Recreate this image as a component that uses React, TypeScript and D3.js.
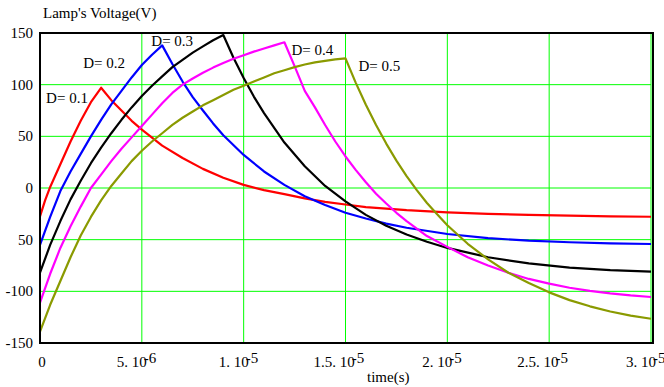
import React from 'react';
import * as d3 from 'd3';

// time in microseconds, voltage in volts
const redTime = [0, 0.25, 0.5, 1, 1.5, 2, 2.5, 3, 3.5, 4, 4.5, 5, 6, 7, 8, 9, 10, 11, 12, 13, 14, 15, 16, 18, 20, 22, 24, 26, 28, 30];
const redVolt = [-27.5, -12, 1, 23, 45, 65, 83, 97, 85, 75, 65, 56.5, 41, 29, 18.5, 10, 3, -2, -6, -10, -13.5, -16, -18.5, -21.5, -23.5, -25, -26, -26.8, -27.4, -27.8];

const blueTime = [0, 0.5, 1, 1.5, 2, 2.5, 3, 3.5, 4, 4.5, 5, 5.5, 6, 6.5, 7, 7.5, 8, 8.5, 9, 10, 11, 12, 13, 14, 15, 16, 17, 18, 20, 22, 24, 26, 28, 30];
const blueVolt = [-55, -28, -3, 16, 33, 50, 66, 81, 94, 107, 119, 129, 138, 120, 103, 88, 75, 62.5, 51, 32, 16, 3, -8, -16.5, -24, -29.5, -34.5, -38.5, -44.5, -48.5, -51, -52.5, -53.5, -54.2];

const blackTime = [0, 0.5, 1, 1.5, 2, 2.5, 3, 3.5, 4, 4.5, 5, 5.5, 6, 6.5, 7, 7.5, 8, 8.5, 9, 9.5, 10, 10.5, 11, 12, 13, 14, 15, 16, 17, 18, 19, 20, 22, 24, 26, 28, 30];
const blackVolt = [-82, -55, -32, -11, 7, 24, 39, 53, 66, 78, 89, 99, 108, 117, 124, 131, 137, 143, 148, 126, 106.5, 88.5, 72.5, 44, 21, 2, -13, -26, -36.5, -45, -52, -58, -67, -73, -77, -79.5, -81];

const magentaTime = [0, 0.5, 1, 1.5, 2, 2.5, 3, 3.5, 4, 4.5, 5, 5.5, 6, 6.5, 7, 7.5, 8, 8.5, 9, 9.5, 10, 10.5, 11, 11.5, 12, 12.5, 13, 13.5, 14, 14.5, 15, 15.5, 16, 16.5, 17, 17.5, 18, 19, 20, 21, 22, 23, 24, 25, 26, 27, 28, 29, 30];
const magentaVolt = [-111, -83, -58, -37, -18, 0, 13, 26, 38, 49, 60, 71, 82, 92, 100, 106, 111.5, 116.5, 121, 125, 128.5, 132, 135, 138, 141, 118, 94, 78, 61, 45, 30.5, 17.5, 5.5, -5.5, -15, -24, -32, -46.5, -57, -67, -75, -82, -88, -92.5, -96.5, -99.5, -102, -104, -105.5];

const oliveTime = [0, 0.5, 1, 1.5, 2, 2.5, 3, 3.5, 4, 4.5, 5, 5.5, 6, 6.5, 7, 7.5, 8, 8.5, 9, 9.5, 10, 10.5, 11, 11.5, 12, 12.5, 13, 13.5, 14, 14.5, 15, 15.5, 16, 16.5, 17, 17.5, 18, 18.5, 19, 19.5, 20, 21, 22, 23, 24, 25, 26, 27, 28, 29, 30];
const oliveVolt = [-139, -113, -90, -67, -46, -28, -12, 2, 14, 26, 36, 45, 53, 61, 68, 74, 80, 85, 90, 95, 99, 103, 107, 111, 114, 117, 119.5, 121.5, 123, 124.5, 125.5, 102, 80.5, 61, 43, 26.5, 11.5, -2, -14.5, -25.5, -36, -54, -69, -82, -92, -101, -108.5, -114.5, -119.5, -123.5, -126.5];

const seriesLabels = ['D= 0.1', 'D= 0.2', 'D= 0.3', 'D= 0.4', 'D= 0.5'];

const yTicks = [-150, -100, -50, 0, 50, 100, 150];
const yTickLabels = ['-150', '-100', '50', '0', '50', '100', '150'];

const xTicks = [0, 5e-6, 1e-5, 1.5e-5, 2e-5, 2.5e-5, 3e-5];
const xTickMantissa = ['0', '5. 10', '1. 10', '1.5. 10', '2. 10', '2.5. 10', '3. 10'];
const xTickExponent = ['', '-6', '-5', '-5', '-5', '-5', '-5'];

const W = 664;
const H = 387;

const x = d3.scaleLinear().domain([0, 3e-5]).range([40, 651]);
const y = d3.scaleLinear().domain([-150, 150]).range([343, 33]);

// label offsets (pixels) from each curve's peak
const labelOffsets = [[-55, 15], [-79, 23], [-72, 11], [7, 13], [13, 13]];

const series = [
  { t: redTime, v: redVolt, color: '#ff0000' },
  { t: blueTime, v: blueVolt, color: '#0000ff' },
  { t: blackTime, v: blackVolt, color: '#000000' },
  { t: magentaTime, v: magentaVolt, color: '#ff00ff' },
  { t: oliveTime, v: oliveVolt, color: '#8a9a00' },
];

const line = d3.line<[number, number]>()
  .x(d => x(d[0] * 1e-6))
  .y(d => y(d[1]));

export default function App() {
  const [x0, x1] = x.range();
  const [yb, yt] = y.range();

  return (
    <div style={{ position: 'absolute', left: 0, top: 0, fontFamily: 'Liberation Serif' }}>
      <svg width={W} height={H} style={{ display: 'block', background: 'white' }}
        fontFamily="Liberation Serif" fontSize={15} fill="#000">
        <rect x={0} y={0} width={W} height={H} fill="white" />

        {/* grid */}
        {xTicks.slice(1).map(t => (
          <line key={'gx' + t} x1={x(t)} x2={x(t)} y1={yt} y2={yb} stroke="#00ff00" strokeWidth={1} />
        ))}
        {yTicks.slice(1, -1).map(v => (
          <line key={'gy' + v} x1={x0} x2={x1} y1={y(v)} y2={y(v)} stroke="#00ff00" strokeWidth={1} />
        ))}

        {/* curves */}
        {series.map((s, i) => (
          <path key={i} d={line(s.t.map((t, j) => [t, s.v[j]] as [number, number])) || ''}
            fill="none" stroke={s.color} strokeWidth={2.2} strokeLinejoin="round" />
        ))}

        {/* frame */}
        <line x1={x0} x2={x0} y1={yt - 1} y2={yb + 1} stroke="#000" strokeWidth={2} />
        <line x1={x0} x2={x1 + 3} y1={yb} y2={yb} stroke="#000" strokeWidth={2} />
        <line x1={x0} x2={x1 + 3} y1={yt} y2={yt} stroke="#000" strokeWidth={2} />
        <line x1={x1 + 2} x2={x1 + 2} y1={yt - 1} y2={yb + 1} stroke="#000" strokeWidth={2} />

        {/* y tick labels */}
        {yTicks.map((v, i) => (
          <text key={'yl' + v} x={33} y={y(v) + 5} textAnchor="end">{yTickLabels[i]}</text>
        ))}

        {/* x tick labels */}
        {xTicks.map((t, i) => i === 0 ? (
          <text key={'xl' + t} x={x(t) + 2} y={367} textAnchor="middle">{xTickMantissa[i]}</text>
        ) : (
          <text key={'xl' + t} x={x(t) - (xTickMantissa[i].length > 5 ? 32 : 25)} y={367}>
            {xTickMantissa[i]}
            <tspan dx={-3} dy={-4}>{xTickExponent[i]}</tspan>
          </text>
        ))}

        {/* titles */}
        <text x={43} y={18}>Lamp's Voltage(V)</text>
        <text x={367} y={382}>time(s)</text>

        {/* curve annotations */}
        {series.map((s, i) => {
          const k = s.v.indexOf(d3.max(s.v) as number);
          return (
            <text key={'lab' + i} x={x(s.t[k] * 1e-6) + labelOffsets[i][0]} y={y(s.v[k]) + labelOffsets[i][1]}>
              {seriesLabels[i]}
            </text>
          );
        })}
      </svg>
    </div>
  );
}
